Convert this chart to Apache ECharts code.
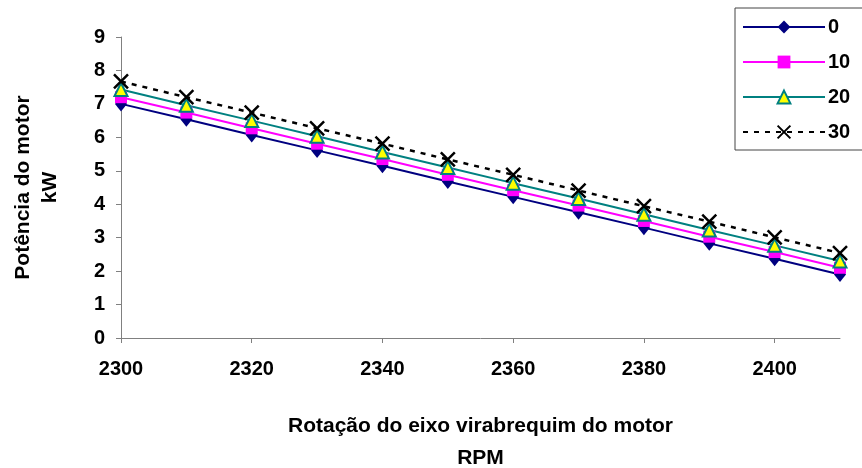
<!DOCTYPE html>
<html lang="pt">
<head>
  <meta charset="UTF-8" />
  <title>Potência do motor</title>
  <style>
    * { padding: 0; margin: 0; }
    html, body { width: 100%; height: 100%; background: #fff; }
    #chart { width: 862px; height: 468px; }
  </style>
</head>
<body>
  <div id="chart"></div>
  <script src="https://cdn.jsdelivr.net/npm/echarts@6/dist/echarts.min.js"></script>
  <script>
    var rpm = [2300, 2310, 2320, 2330, 2340, 2350, 2360, 2370, 2380, 2390, 2400, 2410]
    var xTicks = [2300, 2320, 2340, 2360, 2380, 2400]
    var names = ['0', '10', '20', '30']
    var p0 = [7.00, 6.54, 6.07, 5.61, 5.15, 4.68, 4.22, 3.76, 3.30, 2.83, 2.37, 1.90]
    var p10 = [7.20, 6.74, 6.27, 5.81, 5.35, 4.88, 4.42, 3.96, 3.50, 3.03, 2.57, 2.10]
    var p20 = [7.43, 6.96, 6.50, 6.03, 5.56, 5.10, 4.63, 4.17, 3.70, 3.23, 2.77, 2.30]
    var p30 = [7.67, 7.20, 6.74, 6.27, 5.81, 5.34, 4.88, 4.41, 3.94, 3.48, 3.01, 2.54]

    var font = 'Liberation Sans, Arial, sans-serif'
    function pairs(vals) {
      return rpm.map(function (r, i) { return [r, vals[i]] })
    }

    var chart = echarts.init(document.getElementById('chart'))
    var option = {
      animation: false,
      textStyle: { fontFamily: font },
      grid: { left: 121, right: 22, top: 37, bottom: 130, outerBoundsMode: 'none' },
      legend: {
        orient: 'vertical',
        left: 735,
        top: 8,
        padding: [9, 20, 8, 7],
        itemWidth: 82,
        itemHeight: 16,
        itemGap: 15,
        backgroundColor: '#fff',
        borderColor: '#444',
        borderWidth: 1,
        borderRadius: 0,
        textStyle: { fontSize: 20, fontWeight: 'bold', color: '#000', padding: [0, 0, 0, -2] },
        data: names
      },
      xAxis: {
        type: 'value',
        min: 2300,
        max: 2410,
        interval: 20,
        name: 'Rotação do eixo virabrequim do motor\nRPM',
        nameLocation: 'middle',
        nameGap: 72,
        nameTextStyle: { fontSize: 21, fontWeight: 'bold', color: '#000', lineHeight: 32 },
        splitLine: { show: false },
        axisLine: { lineStyle: { color: '#808080', width: 1 } },
        axisTick: { length: 5, customValues: xTicks, lineStyle: { color: '#808080' } },
        axisLabel: {
          customValues: xTicks, margin: 21, fontSize: 20, fontWeight: 'bold', color: '#000',
          formatter: function (v) { return String(v) }
        }
      },
      yAxis: {
        type: 'value',
        min: 0,
        max: 9,
        interval: 1,
        name: 'Potência do motor\nkW',
        nameLocation: 'middle',
        nameGap: 57,
        nameTextStyle: { fontSize: 21, fontWeight: 'bold', color: '#000', lineHeight: 27 },
        splitLine: { show: false },
        axisLine: { show: true, lineStyle: { color: '#808080', width: 1 } },
        axisTick: { show: true, length: 5, lineStyle: { color: '#808080' } },
        axisLabel: { margin: 16, fontSize: 20, fontWeight: 'bold', color: '#000' }
      },
      series: [
        {
          name: names[0], type: 'line', data: pairs(p0),
          symbol: 'diamond', symbolSize: [12, 15],
          itemStyle: { color: '#000080' },
          lineStyle: { color: '#000080', width: 2 }
        },
        {
          name: names[1], type: 'line', data: pairs(p10),
          symbol: 'rect', symbolSize: 12,
          itemStyle: { color: '#ff00ff' },
          lineStyle: { color: '#ff00ff', width: 2 }
        },
        {
          name: names[2], type: 'line', data: pairs(p20),
          symbol: 'triangle', symbolSize: 13,
          itemStyle: { color: '#ffff00', borderColor: '#008080', borderWidth: 2 },
          lineStyle: { color: '#008080', width: 2 }
        },
        {
          name: names[3], type: 'line', data: pairs(p30),
          symbol: 'path://M0,0L10,10M10,0L0,10', symbolSize: 14,
          itemStyle: { color: 'transparent', borderColor: '#000', borderWidth: 2.5 },
          lineStyle: { color: '#000', width: 2.5, type: [5, 6] }
        }
      ]
    }
    chart.setOption(option)
  </script>
</body>
</html>
